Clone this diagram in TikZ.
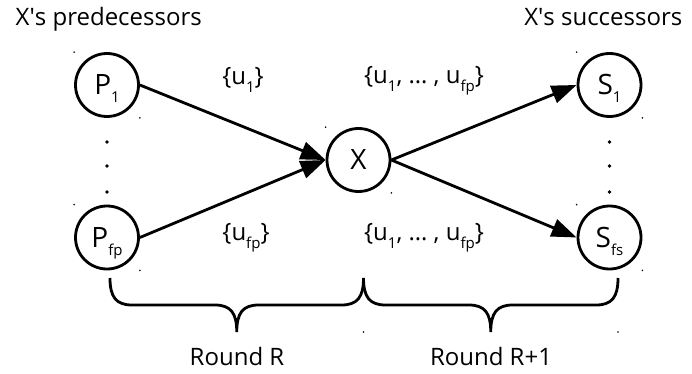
\documentclass[tikz,border=0pt]{standalone}
\usepackage{fontspec}
\setmainfont{Open Sans}
\usetikzlibrary{arrows.meta}

\newcommand{\lowsub}[1]{\raisebox{-8pt}[0pt][0pt]{\fontsize{15}{15}\selectfont #1}}

\begin{document}
\begin{tikzpicture}[x=1pt,y=-1pt,line width=2.8pt,
  every node/.style={font=\fontsize{24}{28}\selectfont},
  proc/.style={draw,circle,minimum size=63pt,inner sep=0pt,font=\fontsize{28}{32}\selectfont},
  msg/.style={-{Triangle[length=25pt,width=18pt]}},
  speck/.style={fill=black,draw=none}]
  \def \lx {107}
  \def \cx {358.5}
  \def \rx {609.5}
  \def \ty {85}
  \def \my {160}
  \def \by {237.5}

  \useasboundingbox (0,0) rectangle (692,374);

  \node[anchor=base west] (predtitle) at (11,26) {X\textquotesingle s predecessors};
  \node[anchor=base east] (succtitle) at (687,26) {X\textquotesingle s successors};

  \node[proc] (p1) at (\lx,\ty) {P\lowsub{1}};
  \node[proc] (pfp) at (\lx,\by) {P\lowsub{fp}};
  \node[proc] (x) at (\cx,\my) {X};
  \node[proc] (s1) at (\rx,\ty) {S\lowsub{1}};
  \node[proc] (sfs) at (\rx,\by) {S\lowsub{fs}};

  \draw[msg] (p1.east) -- (x.west);
  \draw[msg] (pfp.east) -- (x.west);
  \draw[msg] (x.east) -- (s1.west);
  \draw[msg] (x.east) -- (sfs.west);

  \node (in1) at (243,78) {\{u\lowsub{1}\}};
  \node (infp) at (246,234) {\{u\lowsub{fp}\}};
  \node (out1) at (424,77) {\{u\lowsub{1}, \dots{} , u\lowsub{fp}\}};
  \node (outfs) at (424,234) {\{u\lowsub{1}, \dots{} , u\lowsub{fp}\}};

  \foreach \dx in {\lx,\rx}
    \foreach \dy in {142,166,192}
      \fill (\dx,\dy) circle (1.8);

  \foreach \n in {p1,pfp,x,s1,sfs}{
    \fill[speck] (\n.west |- \n.north) circle (0.9);
    \fill[speck] (\n.east |- \n.south) circle (0.9);
  }

  \foreach \a/\b in {110/363.5,363.5/618}{
    \pgfmathsetmacro{\m}{(\a+\b)/2}
    \draw (\a,278) .. controls (\a,297) and (\a+6,305) .. (\a+22,305)
      -- (\m-22,305) .. controls (\m-6,305) and (\m,313) .. (\m,332)
      .. controls (\m,313) and (\m+6,305) .. (\m+22,305)
      -- (\b-22,305) .. controls (\b-6,305) and (\b,297) .. (\b,278);
  }
  \fill[speck] (363.5,332) circle (0.9);
  \fill[speck] (618,332) circle (0.9);

  \node[anchor=base] (roundr) at (237,365) {Round R};
  \node[anchor=base] (roundnext) at (491,365) {Round R+1};
\end{tikzpicture}
\end{document}
